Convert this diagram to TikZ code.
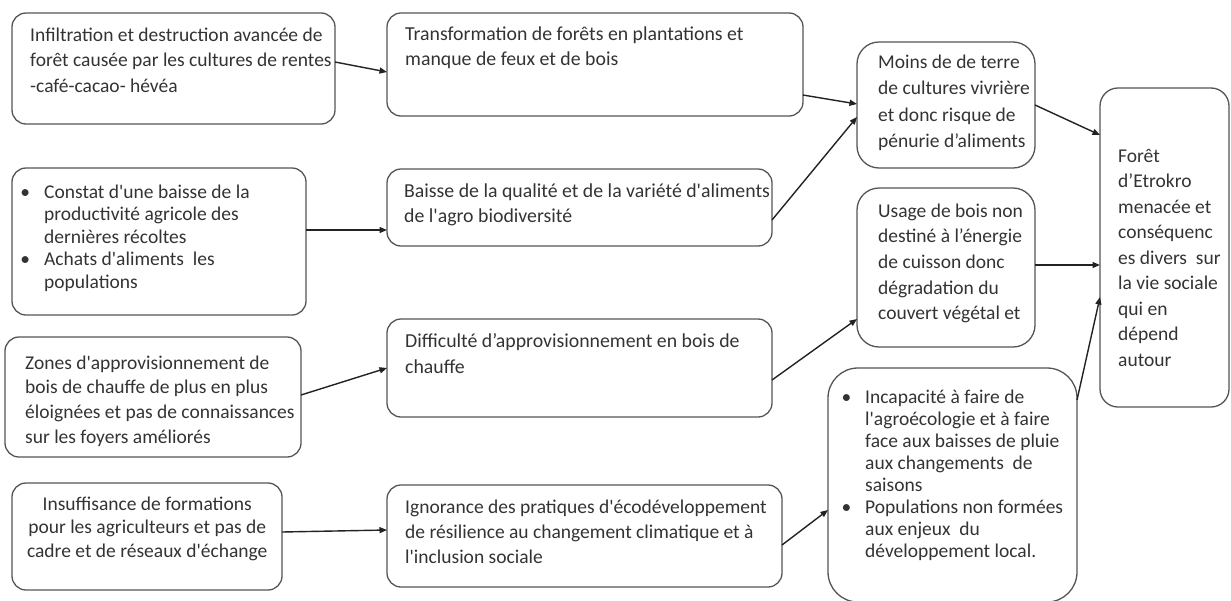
\documentclass[tikz,border=0pt]{standalone}
\usepackage{fontspec}
\setmainfont{Carlito}[Ligatures=TeXOff]
\usetikzlibrary{arrows.meta}
\definecolor{boxgray}{HTML}{555555}
\definecolor{textgray}{HTML}{333333}
\definecolor{linkgray}{HTML}{222222}
% top-aligned text block: its baseline is the baseline of the first line
\newcommand\boxtext[2]{\parbox[t]{#1}{\raggedright #2}}
\newcommand\boxtextc[2]{\parbox[t]{#1}{\centering #2}}
\newcommand\bitem{\leavevmode\llap{\textbullet\hspace{14pt}}}
\begin{document}
\begin{tikzpicture}[x=1pt,y=-1pt,
  box/.style={draw=boxgray, line width=1.3pt, rounded corners=14pt, inner sep=0pt, outer sep=0pt, anchor=north west},
  rbox/.style={box, rounded corners=22pt},
  txt/.style={inner sep=0pt, anchor=base west, text=textgray, font=\fontsize{19.5}{25.5}\selectfont},
  link/.style={draw=linkgray, line width=1.4pt, -{Triangle[length=7.5pt,width=6pt]}},
]
\useasboundingbox (0,0) rectangle (1231,600);
\clip (0,0) rectangle (1231,600);

% causes
\node[box, minimum width=323pt, minimum height=111pt] (l1) at (12,13) {};
\node[box, minimum width=294pt, minimum height=147pt] (l2) at (12,168) {};
\node[box, minimum width=296pt, minimum height=120pt] (l3) at (5,337) {};
\node[box, minimum width=270pt, minimum height=107pt] (l4) at (12,483) {};

% direct effects
\node[box, minimum width=416pt, minimum height=103pt] (m1) at (387,13) {};
\node[box, minimum width=385pt, minimum height=77pt] (m2) at (387,169) {};
\node[box, minimum width=385pt, minimum height=98pt] (m3) at (387,319) {};
\node[box, minimum width=395pt, minimum height=102pt] (m4) at (387,485) {};

% consequences
\node[rbox, minimum width=178pt, minimum height=126pt] (a) at (857,42) {};
\node[rbox, minimum width=178pt, minimum height=159pt] (u) at (857,188) {};
\node[rbox, rounded corners=30pt, minimum width=249pt, minimum height=234pt] (inc) at (828,368) {};
\node[rbox, rounded corners=18pt, minimum width=129pt, minimum height=319pt] (f) at (1100,88) {};

% texts (long lines are cut at the frame of their box)
\begin{scope}
  \clip (l1.north west) rectangle ([xshift=-1pt]l1.south east);
  \node[txt] (l1t) at (30,41) {\boxtext{310pt}{Infiltration et destruction avancée de\\forêt causée par les cultures de rentes\\-café-cacao- hévéa}};
\end{scope}
\node[txt, font=\fontsize{19.5}{22.5}\selectfont] (l2t) at (44,198) {\boxtext{255pt}{\bitem Constat d'une baisse de la\\productivité agricole des\\dernières récoltes\\\bitem Achats d'aliments\ \ les\\populations}};
\begin{scope}
  \clip (l3.north west) rectangle ([xshift=-1pt]l3.south east);
  \node[txt, font=\fontsize{19.5}{24.7}\selectfont] (l3t) at (25,369) {\boxtext{280pt}{Zones d'approvisionnement de\\bois de chauffe de plus en plus\\éloignées et pas de connaissances\\sur les foyers améliorés}};
\end{scope}
\node[txt, font=\fontsize{19.5}{23.5}\selectfont] (l4t) at (12,510) {\boxtextc{270pt}{Insuffisance de formations\\pour les agriculteurs et pas de\\cadre et de réseaux d'échange}};

\node[txt, font=\fontsize{19.8}{25}\selectfont] (m1t) at (405,40) {\boxtext{390pt}{Transformation de forêts en plantations et\\manque de feux et de bois}};
\begin{scope}
  \clip (m2.north west) rectangle ([xshift=-1pt]m2.south east);
  \node[txt, font=\fontsize{19.8}{25}\selectfont] (m2t) at (404,197) {\boxtext{370pt}{Baisse de la qualité et de la variété d'aliments\\de l'agro biodiversité}};
\end{scope}
\node[txt, font=\fontsize{19.8}{26}\selectfont] (m3t) at (405,347) {\boxtext{370pt}{Difficulté d’approvisionnement en bois de\\chauffe}};
\node[txt, font=\fontsize{19.5}{25}\selectfont] (m4t) at (405,513) {\boxtext{375pt}{Ignorance des pratiques d'écodéveloppement\\de résilience au changement climatique et à\\l'inclusion sociale}};

\node[txt, font=\fontsize{19.5}{26.5}\selectfont] (at) at (878,68) {\boxtext{160pt}{Moins de de terre\\de cultures vivrière\\et donc risque de\\pénurie d’aliments}};
\node[txt, font=\fontsize{19.5}{25.7}\selectfont] (ut) at (878,217) {\boxtext{160pt}{Usage de bois non\\destiné à l’énergie\\de cuisson donc\\dégradation du\\couvert végétal et}};
\node[txt, font=\fontsize{19.5}{22.1}\selectfont] (inct) at (865,403) {\boxtext{205pt}{\bitem Incapacité à faire de\\l'agroécologie et à faire\\face aux baisses de pluie\\aux changements\ \ de\\saisons\\\bitem Populations non formées\\aux enjeux\ \ du\\développement local.}};
\node[txt, font=\fontsize{19.5}{25.5}\selectfont] (ft) at (1118,162) {\boxtext{110pt}{Forêt\\d’Etrokro\\menacée et\\conséquenc\\es divers\ \ sur\\la vie sociale\\qui en\\dépend\\autour}};

% links
\draw[link] ([yshift=6.5pt]l1.east) -- ([yshift=-7.5pt]m1.west);
\draw[link] ([yshift=11.5pt]l2.east) -- ([yshift=-22.5pt]m2.west);
\draw[link] ([yshift=2pt]l3.east) -- ([yshift=0pt]m3.west);
\draw[link] ([yshift=4.5pt]l4.east) -- ([yshift=6pt]m4.west);

\draw[link] ([yshift=-30.5pt]m1.east) -- ([yshift=1pt]a.west);
\draw[link] ([yshift=-12.5pt]m2.east) -- ([yshift=-12pt]a.west);
\draw[link] ([yshift=-12pt]m3.east) -- ([yshift=-51.5pt]u.west);
\draw[link] ([yshift=-9pt]m4.east) -- ([yshift=-25pt]inc.west);

\draw[link] (a.east) -- ([yshift=112.5pt]f.west);
\draw[link] ([yshift=2.5pt]u.east) -- ([yshift=2.5pt]u.east -| f.west);
\draw[link] ([yshift=85pt]inc.east) -- ([yshift=-49.5pt]f.west);
\end{tikzpicture}
\end{document}
